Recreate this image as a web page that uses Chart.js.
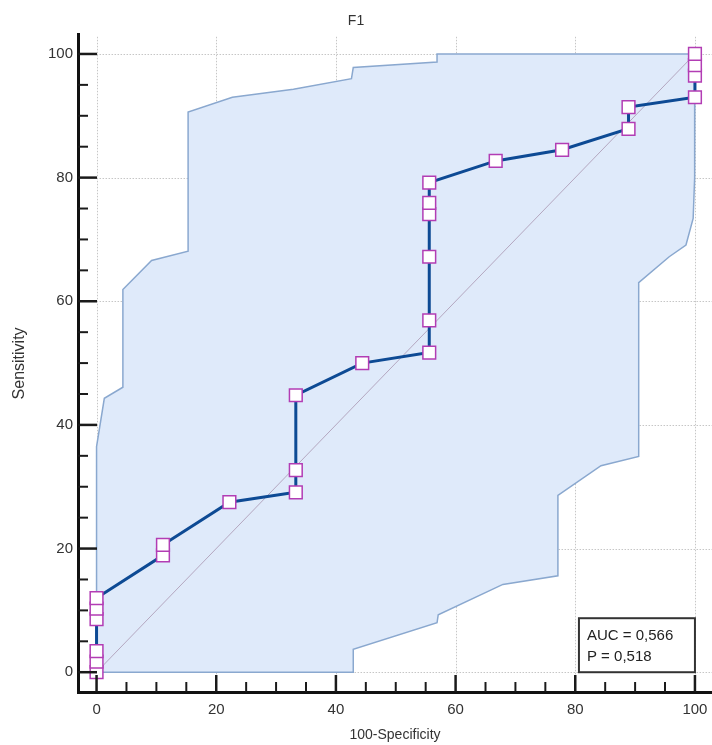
<!DOCTYPE html>
<html>
<head>
<meta charset="utf-8">
<script src="https://cdn.jsdelivr.net/npm/chart.js@4.4.1/dist/chart.umd.min.js"></script>
<style>
  html, body { margin: 0; padding: 0; background: #ffffff; overflow: hidden; }
  #wrap { position: relative; width: 712px; height: 745px; }
</style>
</head>
<body>
<div id="wrap"><canvas id="c"></canvas></div>
<script>
// ROC curve (100-Specificity, Sensitivity)
const rocX = [0, 0, 0, 0, 0, 0, 11.1, 11.1, 22.2, 33.3, 33.3, 33.3, 44.4, 55.6, 55.6, 55.6, 55.6, 55.6, 55.6, 66.7, 77.8, 88.9, 88.9, 100, 100, 100, 100];
const rocY = [0, 1.7, 3.4, 8.6, 10.3, 12.0, 18.9, 20.6, 27.5, 29.1, 32.7, 44.8, 50.0, 51.7, 56.9, 67.2, 74.1, 75.9, 79.2, 82.7, 84.5, 87.9, 91.4, 93.0, 96.5, 98.2, 100];

// Confidence band: upper boundary (left to right)
const upperX = [0, 0, 1.3, 4.4, 4.4, 9.2, 15.3, 15.3, 22.7, 32.9, 42.6, 42.9, 56.9, 56.9, 100];
const upperY = [0, 36.5, 44.3, 46.1, 61.9, 66.6, 68.1, 90.6, 93.0, 94.3, 96.0, 97.8, 98.7, 100, 100];
// Confidence band: lower boundary (left to right)
const lowerX = [0, 42.9, 42.9, 56.9, 57.1, 67.9, 77.1, 77.1, 84.3, 90.6, 90.6, 95.7, 98.5, 99.7, 99.9, 100];
const lowerY = [0, 0, 3.7, 8.0, 9.3, 14.2, 15.6, 28.6, 33.4, 34.9, 63.0, 67.2, 69.1, 73.4, 80.0, 100];

// Reference diagonal
const diagX = [0, 100];
const diagY = [0, 100];

const majorTicks = [0, 20, 40, 60, 80, 100];
const minorTicks = [5, 10, 15, 25, 30, 35, 45, 50, 55, 65, 70, 75, 85, 90, 95];

const chartTitle = 'F1';
const xTitle = '100-Specificity';
const yTitle = 'Sensitivity';
const statLines = ['AUC = 0,566', 'P = 0,518'];

const toPts = (xs, ys) => xs.map((x, i) => ({ x: x, y: ys[i] }));
const bandPts = toPts(upperX, upperY).concat(
  toPts(lowerX, lowerY).reverse()
);

const FONT = "'Liberation Sans', Arial, sans-serif";

const decorPlugin = {
  id: 'decor',
  beforeDatasetsDraw(chart) {
    const { ctx, chartArea: a, scales: { x, y } } = chart;
    ctx.save();
    ctx.strokeStyle = '#c6c6c6';
    ctx.lineWidth = 1;
    ctx.setLineDash([1.5, 1.5]);
    const x0 = x.getPixelForValue(0);
    const y0 = y.getPixelForValue(0);
    majorTicks.forEach(v => {
      const py = Math.round(y.getPixelForValue(v)) + 0.5;
      ctx.beginPath(); ctx.moveTo(x0, py); ctx.lineTo(a.right, py); ctx.stroke();
      const px = Math.round(x.getPixelForValue(v)) + 0.5;
      ctx.beginPath(); ctx.moveTo(px, a.top + 2); ctx.lineTo(px, y0 + 3); ctx.stroke();
    });
    ctx.restore();
  },
  afterDraw(chart) {
    const { ctx, chartArea: a, scales: { x, y } } = chart;
    ctx.save();
    ctx.strokeStyle = '#1a1a1a';
    // major ticks (inward)
    ctx.lineWidth = 2.5;
    majorTicks.forEach(v => {
      const py = y.getPixelForValue(v);
      ctx.beginPath(); ctx.moveTo(a.left, py); ctx.lineTo(a.left + 19, py); ctx.stroke();
      const px = x.getPixelForValue(v);
      ctx.beginPath(); ctx.moveTo(px, a.bottom); ctx.lineTo(px, a.bottom - 17); ctx.stroke();
    });
    // minor ticks (inward)
    ctx.lineWidth = 2;
    minorTicks.forEach(v => {
      const py = y.getPixelForValue(v);
      ctx.beginPath(); ctx.moveTo(a.left, py); ctx.lineTo(a.left + 10, py); ctx.stroke();
      const px = x.getPixelForValue(v);
      ctx.beginPath(); ctx.moveTo(px, a.bottom); ctx.lineTo(px, a.bottom - 10); ctx.stroke();
    });
    // statistics box, anchored to (100, 0)
    const bx1 = x.getPixelForValue(100);
    const by1 = y.getPixelForValue(0);
    const bw = 116, bh = 54;
    ctx.fillStyle = '#ffffff';
    ctx.fillRect(bx1 - bw, by1 - bh, bw, bh);
    ctx.lineWidth = 2;
    ctx.strokeStyle = '#333333';
    ctx.strokeRect(bx1 - bw, by1 - bh, bw, bh);
    ctx.fillStyle = '#222222';
    ctx.font = '15px ' + FONT;
    ctx.textAlign = 'left';
    ctx.textBaseline = 'middle';
    ctx.fillText(statLines[0], bx1 - bw + 8, by1 - bh + 18);
    ctx.fillText(statLines[1], bx1 - bw + 8, by1 - bh + 39);
    ctx.restore();
  }
};

new Chart(document.getElementById('c'), {
  type: 'line',
  data: {
    datasets: [
      {
        label: 'ROC',
        data: toPts(rocX, rocY),
        borderColor: '#0d4a94',
        borderWidth: 3,
        pointStyle: 'rect',
        pointRadius: 9,
        pointBackgroundColor: '#ffffff',
        pointBorderColor: '#b23db4',
        pointBorderWidth: 1.5,
        fill: false,
        tension: 0,
        clip: false,
        order: 1
      },
      {
        label: 'Diagonal',
        data: toPts(diagX, diagY),
        borderColor: 'rgba(175,160,185,0.9)',
        borderWidth: 1,
        pointRadius: 0,
        fill: false,
        order: 2
      },
      {
        label: 'CI band',
        data: bandPts,
        borderColor: '#8aa8cf',
        borderWidth: 1.5,
        backgroundColor: '#dfeafa',
        pointRadius: 0,
        fill: 'shape',
        tension: 0,
        order: 3
      }
    ]
  },
  options: {
    responsive: true,
    maintainAspectRatio: false,
    animation: false,
    devicePixelRatio: 1,
    layout: { padding: 0, autoPadding: false },
    plugins: {
      legend: { display: false },
      tooltip: { enabled: false },
      title: {
        display: true,
        text: chartTitle,
        color: '#333333',
        font: { family: FONT, size: 14, weight: 'normal' },
        padding: { top: 13, bottom: 5 }
      }
    },
    scales: {
      x: {
        type: 'linear',
        min: -3.1,
        max: 102.85,
        afterBuildTicks: s => { s.ticks = majorTicks.map(v => ({ value: v })); },
        afterFit: s => { s.height = 53; s.paddingLeft = 0; s.paddingRight = 0; },
        grid: { display: true, color: 'rgba(0,0,0,0)', drawTicks: false },
        border: { display: true, color: '#111111', width: 3 },
        ticks: { color: '#333333', font: { family: FONT, size: 15 }, padding: 9, maxRotation: 0 },
        title: {
          display: true,
          text: xTitle,
          color: '#333333',
          font: { family: FONT, size: 14 },
          padding: { top: 0, bottom: 1 }
        }
      },
      y: {
        type: 'linear',
        min: -3.2,
        max: 103.1,
        afterBuildTicks: s => { s.ticks = majorTicks.map(v => ({ value: v })); },
        afterFit: s => { s.width = 78; s.paddingTop = 0; s.paddingBottom = 0; },
        grid: { display: true, color: 'rgba(0,0,0,0)', drawTicks: false },
        border: { display: true, color: '#111111', width: 3 },
        ticks: { color: '#333333', font: { family: FONT, size: 15 }, padding: 5 },
        title: {
          display: true,
          text: yTitle,
          color: '#333333',
          font: { family: FONT, size: 16 },
          padding: { top: 10, bottom: 0 }
        }
      }
    }
  },
  plugins: [decorPlugin]
});
</script>
</body>
</html>
